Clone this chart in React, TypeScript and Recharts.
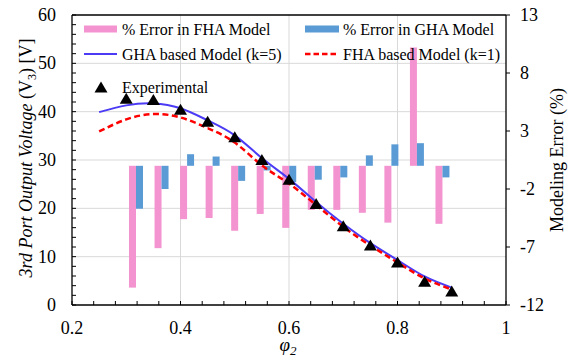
import React from "react";
import {
  ComposedChart,
  Bar,
  Line,
  Scatter,
  XAxis,
  YAxis,
  CartesianGrid,
  ReferenceLine,
  Legend,
} from "recharts";

// phi_2 values where the error bars and the measured points sit
const phi = [0.3, 0.35, 0.4, 0.45, 0.5, 0.55, 0.6, 0.65, 0.7, 0.75, 0.8, 0.85, 0.9];
const fhaError = [-10.5, -7.1, -4.6, -4.5, -5.6, -4.15, -5.35, -3.8, -3.8, -4.05, -4.9, 10.2, -5.0];
const ghaError = [-3.7, -2.0, 1.0, 0.8, -1.3, -0.4, -1.4, -1.2, -1.0, 0.9, 1.85, 1.95, -1.0];
const experimental = [42.8, 42.5, 40.5, 38.0, 34.8, 30.1, 26.0, 21.0, 16.4, 12.4, 8.9, 4.9, 2.9];

// model curves
const phiModel = [0.25, 0.3, 0.35, 0.4, 0.45, 0.5, 0.55, 0.6, 0.65, 0.7, 0.75, 0.8, 0.85, 0.9];
const ghaModel = [39.9, 41.3, 41.7, 40.7, 38.2, 35.1, 30.4, 26.1, 21.3, 16.8, 12.8, 9.3, 5.9, 3.6];
const fhaModel = [35.9, 38.4, 39.5, 38.8, 36.6, 33.6, 28.9, 25.1, 20.7, 16.2, 12.3, 8.8, 5.5, 3.2];

// ticks
const xTicks = [0.2, 0.24, 0.28, 0.32, 0.36, 0.4, 0.44, 0.48, 0.52, 0.56, 0.6, 0.64, 0.68, 0.72, 0.76, 0.8, 0.84, 0.88, 0.92, 0.96, 1];
const xLabels = [0.2, 0.4, 0.6, 0.8, 1];
const leftTicks = [0, 2, 4, 6, 8, 10, 12, 14, 16, 18, 20, 22, 24, 26, 28, 30, 32, 34, 36, 38, 40, 42, 44, 46, 48, 50, 52, 54, 56, 58, 60];
const leftLabels = [0, 10, 20, 30, 40, 50, 60];
const rightTicks = [-12, -7, -2, 3, 8, 13];
const gridY = [10, 20, 30, 40, 50];
const gridX = [0.4, 0.6, 0.8];

const PINK = "#F393CF";
const BLUE = "#5B9BD5";
const GHA = "#4B3BF5";
const FHA = "#FF0000";
const FONT = "'Liberation Serif', 'Times New Roman', serif";

const barData = phi.map((p, i) => ({ phi: p, fha: fhaError[i], gha: ghaError[i] }));
const expData = phi.map((p, i) => ({ phi: p, v: experimental[i] }));
const ghaData = phiModel.map((p, i) => ({ phi: p, v: ghaModel[i] }));
const fhaData = phiModel.map((p, i) => ({ phi: p, v: fhaModel[i] }));

const isIn = (list: number[], v: number) => list.some((l) => Math.abs(l - v) < 1e-9);

// tick labels drawn by hand so the serif font sticks
function XTick(props: any) {
  const { x, y, payload } = props;
  if (!isIn(xLabels, payload.value)) return null;
  return (
    <text x={x} y={y} dy="0.71em" textAnchor="middle" fontFamily={FONT} fontSize={18} fill="#000">
      {String(payload.value)}
    </text>
  );
}

function LeftTick(props: any) {
  const { x, y, payload } = props;
  if (!isIn(leftLabels, payload.value)) return null;
  return (
    <text x={x} y={y} dy="0.34em" textAnchor="end" fontFamily={FONT} fontSize={18} fill="#000">
      {String(payload.value)}
    </text>
  );
}

function RightTick(props: any) {
  const { x, y, payload } = props;
  return (
    <text x={x} y={y} dy="0.34em" textAnchor="start" fontFamily={FONT} fontSize={18} fill="#000">
      {String(payload.value)}
    </text>
  );
}

function Triangle(props: any) {
  const { cx, cy } = props;
  if (cx == null || cy == null) return null;
  return (
    <polygon
      points={`${cx},${cy - 5.5} ${cx + 6.5},${cy + 5.5} ${cx - 6.5},${cy + 5.5}`}
      fill="#000"
    />
  );
}

function LeftTitle(props: any) {
  const vb = props.viewBox || {};
  const x = vb.x + 32;
  const y = vb.y + vb.height / 2 - 2;
  return (
    <text
      x={x}
      y={y}
      transform={`rotate(-90, ${x}, ${y})`}
      textAnchor="middle"
      fontFamily={FONT}
      fontSize={18}
      fill="#000"
    >
      <tspan fontStyle="italic">3rd Port Output Voltage</tspan>
      <tspan> (V</tspan>
      <tspan fontSize={12} dy={4}>3</tspan>
      <tspan dy={-4}>) [V]</tspan>
    </text>
  );
}

function RightTitle(props: any) {
  const vb = props.viewBox || {};
  const x = vb.x + 57;
  const y = vb.y + vb.height / 2;
  return (
    <text
      x={x}
      y={y}
      transform={`rotate(-90, ${x}, ${y})`}
      textAnchor="middle"
      fontFamily={FONT}
      fontSize={18}
      fill="#000"
    >
      Modeling Error (%)
    </text>
  );
}

function XTitle(props: any) {
  const vb = props.viewBox || {};
  const x = vb.x + vb.width / 2 - 1;
  const y = vb.y + 46;
  return (
    <text x={x} y={y} textAnchor="middle" fontFamily={FONT} fontSize={19} fontStyle="italic" fill="#000">
      φ<tspan fontSize={13} dy={4}>2</tspan>
    </text>
  );
}

function LegendBox() {
  const text = { fontFamily: FONT, fontSize: 16, fill: "#000" };
  return (
    <svg width={440} height={90}>
      <rect x={6} y={10.5} width={33} height={7} fill={PINK} />
      <text x={44} y={14} dominantBaseline="central" {...text}>% Error in FHA Model</text>
      <rect x={227} y={10.5} width={34} height={7} fill={BLUE} />
      <text x={265} y={14} dominantBaseline="central" {...text}>% Error in GHA Model</text>

      <line x1={6} y1={39} x2={39} y2={39} stroke={GHA} strokeWidth={2} />
      <text x={44} y={39} dominantBaseline="central" {...text}>GHA based Model (k=5)</text>
      <line x1={227} y1={39} x2={261} y2={39} stroke={FHA} strokeWidth={2.5} strokeDasharray="5.5 3" />
      <text x={265} y={39} dominantBaseline="central" {...text}>FHA based Model (k=1)</text>

      <Triangle cx={23} cy={72} />
      <text x={44} y={72} dominantBaseline="central" {...text}>Experimental</text>
    </svg>
  );
}

export default function App() {
  return (
    <div
      style={{
        position: "absolute",
        left: 0,
        top: 0,
        width: 582,
        height: 357,
        background: "#fff",
        fontFamily: FONT,
      }}
    >
      <ComposedChart
        width={582}
        height={357}
        data={barData}
        margin={{ top: 15, right: 0, bottom: 0, left: 0 }}
        barGap={0}
      >
        <CartesianGrid
          xAxisId="num"
          yAxisId="left"
          stroke="#D9D9D9"
          horizontalValues={gridY}
          verticalValues={gridX}
        />
        <XAxis
          xAxisId="num"
          dataKey="phi"
          type="number"
          domain={[0.2, 1]}
          ticks={xTicks}
          interval={0}
          height={52}
          tickSize={-4}
          tickMargin={20}
          tick={<XTick />}
          axisLine={{ stroke: "#000", strokeWidth: 1.3 }}
          tickLine={{ stroke: "#000" }}
          allowDataOverflow
          label={<XTitle />}
        />
        <XAxis
          xAxisId="bar"
          dataKey="phi"
          type="category"
          orientation="top"
          height={0}
          hide
          padding={{ left: 51, right: 51 }}
        />
        <YAxis
          yAxisId="left"
          domain={[0, 60]}
          ticks={leftTicks}
          interval={0}
          width={72}
          tickSize={-4}
          tickMargin={20}
          tick={<LeftTick />}
          axisLine={{ stroke: "#000", strokeWidth: 1.3 }}
          tickLine={{ stroke: "#000" }}
          allowDataOverflow
          label={<LeftTitle />}
        />
        <YAxis
          yAxisId="right"
          orientation="right"
          domain={[-12, 13]}
          ticks={rightTicks}
          interval={0}
          width={76}
          tickSize={4}
          tickMargin={10}
          tick={<RightTick />}
          axisLine={{ stroke: "#000", strokeWidth: 1.3 }}
          tickLine={{ stroke: "#000" }}
          allowDataOverflow
          label={<RightTitle />}
        />
        <ReferenceLine yAxisId="left" xAxisId="num" y={60} stroke="#000" strokeWidth={1.3} />

        <Bar xAxisId="bar" yAxisId="right" dataKey="fha" fill={PINK} barSize={7} isAnimationActive={false} />
        <Bar xAxisId="bar" yAxisId="right" dataKey="gha" fill={BLUE} barSize={7} isAnimationActive={false} />

        <Line
          xAxisId="num"
          yAxisId="left"
          data={ghaData}
          dataKey="v"
          type="natural"
          stroke={GHA}
          strokeWidth={2}
          dot={false}
          isAnimationActive={false}
        />
        <Line
          xAxisId="num"
          yAxisId="left"
          data={fhaData}
          dataKey="v"
          type="natural"
          stroke={FHA}
          strokeWidth={2.5}
          strokeDasharray="6 3.5"
          dot={false}
          isAnimationActive={false}
        />
        <Scatter
          xAxisId="num"
          yAxisId="left"
          data={expData}
          dataKey="v"
          shape={<Triangle />}
          isAnimationActive={false}
        />

        <Legend
          layout="vertical"
          align="center"
          verticalAlign="middle"
          wrapperStyle={{ top: 15, left: 78, width: 440, height: 90 }}
          content={() => <LegendBox />}
        />
      </ComposedChart>
    </div>
  );
}
